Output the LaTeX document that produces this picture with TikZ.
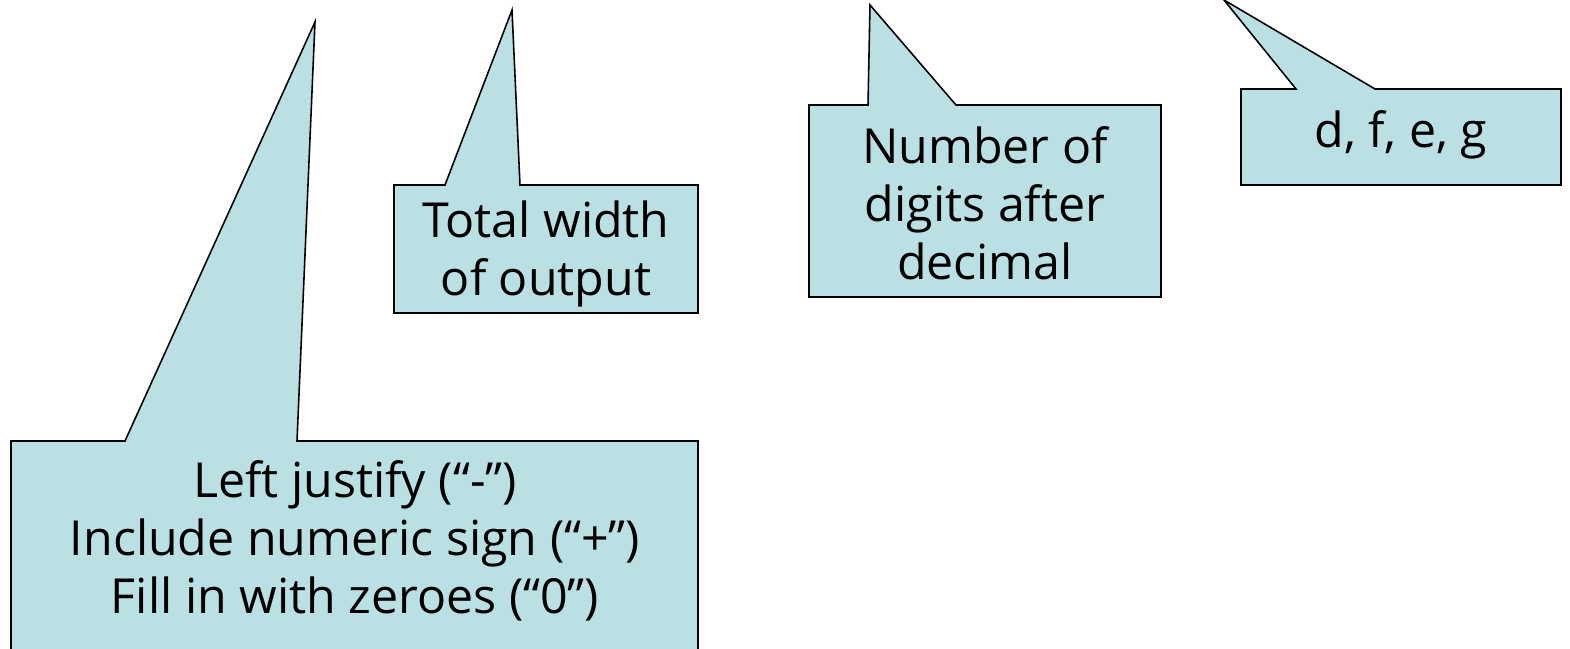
\documentclass[tikz,border=0pt]{standalone}
\usepackage{fontspec}
\setmainfont{Open Sans}
\usepackage{xcolor}
\definecolor{bulle}{HTML}{BBE0E3}

\begin{document}
\begin{tikzpicture}[x=0.02cm, y=-0.02cm, thick,
    bulle/.style={fill=bulle, draw=black, line width=0.9pt, line join=miter},
    texte/.style={align=center, font=\fontsize{27.5}{33}\selectfont, inner sep=0pt}]

    % Cadre de l'image
    \clip (0,0) rectangle (1570,649);

    % Bulle du bas (drapeaux)
    \draw[bulle] (11,441) -- (125,441) -- (315,22) -- (297,441) -- (698,441)
        -- (698,660) -- (11,660) -- cycle;
    \node[texte] (drapeaux) at (355,541)
        {Left justify (“-”)\\Include numeric sign (“+”)\\Fill in with zeroes (“0”)};

    % Bulle largeur
    \draw[bulle] (394,185) -- (445,185) -- (512,10) -- (520,185) -- (698,185)
        -- (698,313) -- (394,313) -- cycle;
    \node[texte] (largeur) at (546,254) {Total width\\of output};

    % Bulle précision
    \draw[bulle] (809,105) -- (868,105) -- (870,5) -- (956,105) -- (1161,105)
        -- (1161,297) -- (809,297) -- cycle;
    \node[texte] (precision) at (985,203) {Number of\\digits after\\decimal};

    % Bulle conversion
    \draw[bulle] (1241,89) -- (1296,89) -- (1224,0) -- (1375,89) -- (1561,89)
        -- (1561,185) -- (1241,185) -- cycle;
    \node[texte] (conversion) at (1401,135) {d, f, e, g};

\end{tikzpicture}
\end{document}
